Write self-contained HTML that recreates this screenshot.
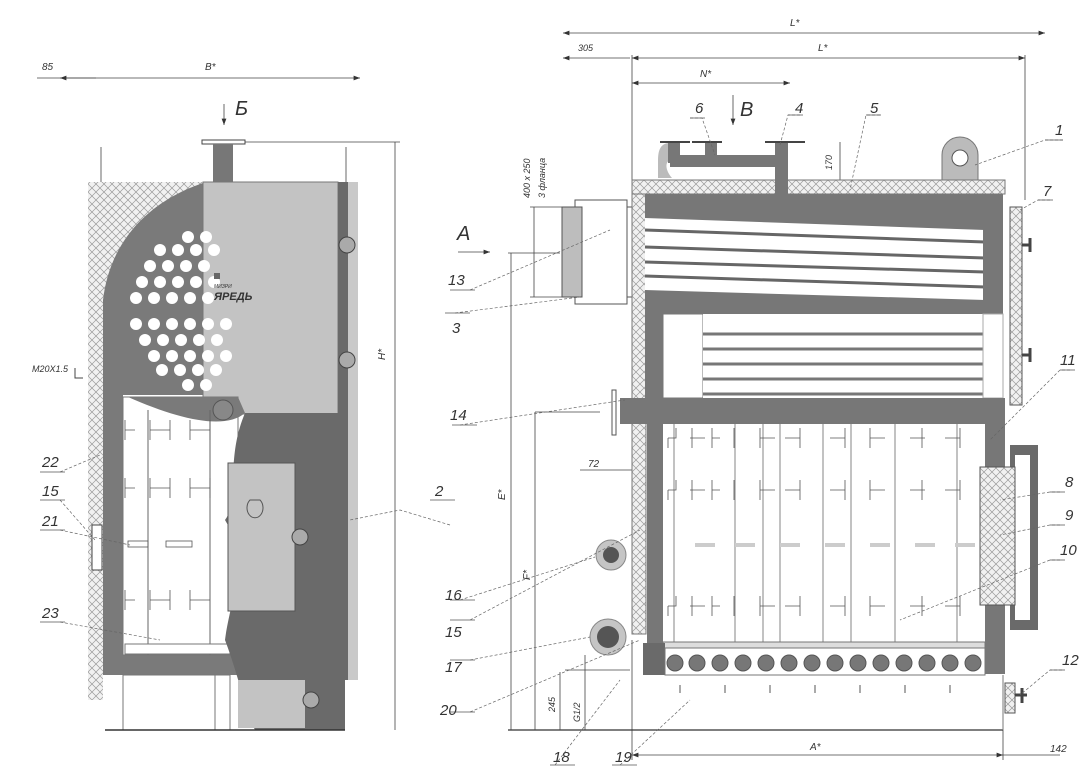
<!DOCTYPE html>
<html><head><meta charset="utf-8"><style>
html,body{margin:0;padding:0;background:#fff;}
svg{display:block;}
text{font-family:"Liberation Sans","DejaVu Sans",sans-serif;font-style:italic;fill:#333;}
</style></head><body>
<svg width="1091" height="780" viewBox="0 0 1091 780" xmlns="http://www.w3.org/2000/svg">
<defs>
<pattern id="h" width="8" height="8" patternUnits="userSpaceOnUse">
<rect width="8" height="8" fill="#f1f1f1"/>
<path d="M0 0L8 8M8 0L0 8" stroke="#9a9a9a" stroke-width="0.7"/>
</pattern>
<marker id="a" markerWidth="8" markerHeight="6" refX="8" refY="3" orient="auto"><path d="M0 0L8 3L0 6Z" fill="#333"/></marker>
<marker id="s" markerWidth="8" markerHeight="6" refX="0" refY="3" orient="auto"><path d="M8 0L0 3L8 6Z" fill="#333"/></marker>
</defs>
<g fill="none" stroke="#444" stroke-width="0.8">
<line x1="37" y1="78" x2="360" y2="78" marker-end="url(#a)"/>
<line x1="96" y1="78" x2="60" y2="78" marker-end="url(#a)"/>
<line x1="101" y1="147" x2="101" y2="182"/><line x1="346" y1="147" x2="346" y2="182"/>
<line x1="245" y1="142" x2="400" y2="142"/>
<line x1="395" y1="142" x2="395" y2="730"/>
<line x1="224" y1="104" x2="224" y2="125" marker-end="url(#a)"/>
</g>
<rect x="202" y="140" width="43" height="4" fill="#fff" stroke="#444"/>
<rect x="213" y="144" width="20" height="38" fill="#777"/>
<path d="M88 182 H206 C160 200 110 240 103 300 V700 H88Z" fill="url(#h)"/>
<path d="M206 182 C150 200 110 240 103 300 V395 H230 V182Z" fill="#7a7a7a"/>
<rect x="203" y="182" width="135" height="232" fill="#c3c3c3" stroke="#777"/>
<rect x="338" y="182" width="10" height="498" fill="#6a6a6a"/>
<rect x="348" y="182" width="10" height="498" fill="#c9c9c9"/>
<g fill="#fff">
<circle cx="188" cy="237" r="6"/><circle cx="206" cy="237" r="6"/>
<circle cx="160" cy="250" r="6"/><circle cx="178" cy="250" r="6"/><circle cx="196" cy="250" r="6"/><circle cx="214" cy="250" r="6"/>
<circle cx="150" cy="266" r="6"/><circle cx="168" cy="266" r="6"/><circle cx="186" cy="266" r="6"/><circle cx="204" cy="266" r="6"/>
<circle cx="142" cy="282" r="6"/><circle cx="160" cy="282" r="6"/><circle cx="178" cy="282" r="6"/><circle cx="196" cy="282" r="6"/><circle cx="214" cy="282" r="6"/>
<circle cx="136" cy="298" r="6"/><circle cx="154" cy="298" r="6"/><circle cx="172" cy="298" r="6"/><circle cx="190" cy="298" r="6"/><circle cx="208" cy="298" r="6"/>
<circle cx="136" cy="324" r="6"/><circle cx="154" cy="324" r="6"/><circle cx="172" cy="324" r="6"/><circle cx="190" cy="324" r="6"/><circle cx="208" cy="324" r="6"/><circle cx="226" cy="324" r="6"/>
<circle cx="145" cy="340" r="6"/><circle cx="163" cy="340" r="6"/><circle cx="181" cy="340" r="6"/><circle cx="199" cy="340" r="6"/><circle cx="217" cy="340" r="6"/>
<circle cx="154" cy="356" r="6"/><circle cx="172" cy="356" r="6"/><circle cx="190" cy="356" r="6"/><circle cx="208" cy="356" r="6"/><circle cx="226" cy="356" r="6"/>
<circle cx="162" cy="370" r="6"/><circle cx="180" cy="370" r="6"/><circle cx="198" cy="370" r="6"/><circle cx="216" cy="370" r="6"/>
<circle cx="188" cy="385" r="6"/><circle cx="206" cy="385" r="6"/>
</g>
<rect x="214" y="273" width="6" height="6" fill="#666"/>
<text x="214" y="288" font-size="5" font-style="normal" fill="#555">МИЗРИ</text>
<text x="214" y="300" font-size="11" font-weight="bold" font-style="normal" fill="#555">ЯРЕДЬ</text>
<rect x="103" y="395" width="20" height="280" fill="#7a7a7a"/>
<rect x="103" y="655" width="140" height="20" fill="#7a7a7a"/>
<rect x="123" y="397" width="115" height="258" fill="#fff" stroke="#777"/>
<path d="M123 397 H238 L245 413 C225 430 180 420 128 397Z" fill="#7a7a7a"/>
<circle cx="223" cy="410" r="10" fill="#888" stroke="#555"/>
<line x1="148" y1="410" x2="148" y2="655" stroke="#666"/>
<line x1="210" y1="410" x2="210" y2="655" stroke="#666"/>
<g stroke="#555" fill="none" stroke-width="0.8">
<path d="M125 430h10M125 420v20M150 430h20M150 420v20M170 420v20M190 430h20M190 420v20M210 420v20"/>
<path d="M125 488h10M125 478v20M150 488h20M150 478v20M170 478v20M190 488h20M190 478v20M210 478v20"/>
<path d="M125 600h10M125 590v20M150 600h20M150 590v20M170 590v20M190 600h20M190 590v20"/>
<rect x="166" y="541" width="26" height="6"/><rect x="128" y="541" width="20" height="6"/>
</g>
<rect x="125" y="644" width="105" height="10" fill="#fff" stroke="#777"/>
<path d="M340 413 H245 C225 460 240 500 225 520 C250 560 230 600 225 640 C240 680 245 710 255 730 H345 V680 H340Z" fill="#6a6a6a"/>
<rect x="228" y="463" width="67" height="148" fill="#c3c3c3" stroke="#555"/>
<path d="M250 500 a8 10 0 1 0 10 0Z" fill="none" stroke="#555"/>
<rect x="238" y="680" width="67" height="48" fill="#c3c3c3"/>
<rect x="305" y="680" width="20" height="50" fill="#6a6a6a"/>
<circle cx="311" cy="700" r="8" fill="#aaa" stroke="#444"/>
<circle cx="347" cy="245" r="8" fill="#aaa" stroke="#444"/>
<circle cx="347" cy="360" r="8" fill="#aaa" stroke="#444"/>
<circle cx="300" cy="537" r="8" fill="#aaa" stroke="#444"/>
<rect x="123" y="675" width="107" height="55" fill="#fff" stroke="#777"/>
<line x1="215" y1="675" x2="215" y2="730" stroke="#777"/>
<line x1="105" y1="730" x2="345" y2="730" stroke="#333" stroke-width="1.5"/>
<rect x="92" y="525" width="10" height="45" fill="#fff" stroke="#444"/>
<path d="M75 368 v10 h8" fill="none" stroke="#444"/>
<g fill="none" stroke="#444" stroke-width="0.8">
<line x1="563" y1="33" x2="1045" y2="33" marker-end="url(#a)" marker-start="url(#s)"/>
<line x1="563" y1="58" x2="630" y2="58" marker-start="url(#s)"/>
<line x1="632" y1="58" x2="1025" y2="58" marker-end="url(#a)" marker-start="url(#s)"/>
<line x1="632" y1="83" x2="790" y2="83" marker-end="url(#a)" marker-start="url(#s)"/>
<line x1="632" y1="55" x2="632" y2="180"/><line x1="1025" y1="55" x2="1025" y2="200"/>
<line x1="632" y1="640" x2="632" y2="760"/>
<line x1="1003" y1="730" x2="1003" y2="760"/>
<line x1="632" y1="755" x2="1003" y2="755" marker-end="url(#a)" marker-start="url(#s)"/>
<line x1="1003" y1="755" x2="1060" y2="755"/>
<line x1="508" y1="730" x2="1003" y2="730" stroke="#333" stroke-width="1.3"/>
<line x1="511" y1="253" x2="511" y2="730"/>
<line x1="535" y1="412" x2="535" y2="730"/>
<line x1="535" y1="412" x2="600" y2="412"/>
<line x1="534" y1="207" x2="534" y2="297"/>
<line x1="530" y1="207" x2="562" y2="207"/><line x1="530" y1="297" x2="562" y2="297"/>
<line x1="508" y1="253" x2="560" y2="253"/>
<line x1="458" y1="252" x2="490" y2="252" marker-end="url(#a)"/>
<line x1="733" y1="95" x2="733" y2="125" marker-end="url(#a)"/>
<line x1="840" y1="142" x2="840" y2="180"/>
<line x1="580" y1="470" x2="645" y2="470" marker-end="url(#a)"/>
<line x1="565" y1="670" x2="630" y2="670"/>
<line x1="585" y1="655" x2="585" y2="730"/>
<line x1="560" y1="672" x2="560" y2="730"/>
</g>
<rect x="575" y="200" width="52" height="104" fill="#fff" stroke="#555"/>
<rect x="562" y="207" width="20" height="90" fill="#bdbdbd" stroke="#555"/>
<rect x="627" y="207" width="5" height="90" fill="#fff" stroke="#555"/>
<rect x="632" y="180" width="373" height="14" fill="url(#h)" stroke="#777"/>
<rect x="632" y="194" width="14" height="440" fill="url(#h)" stroke="#777"/>
<path d="M658 178 V160 C658 148 662 143 670 143 V160 C665 162 665 170 672 178Z" fill="#bbb"/>
<rect x="668" y="143" width="12" height="20" fill="#777"/>
<rect x="705" y="143" width="12" height="20" fill="#777"/>
<rect x="670" y="155" width="110" height="12" fill="#777"/>
<rect x="775" y="143" width="13" height="52" fill="#777"/>
<path d="M660 142h30M692 142h30M765 142h40" stroke="#444" stroke-width="2"/>
<path d="M942 180 V155 a18 18 0 0 1 36 0 V180Z" fill="#bbb" stroke="#777"/>
<circle cx="960" cy="158" r="8" fill="#fff" stroke="#555"/>
<rect x="645" y="194" width="358" height="120" fill="#777"/>
<path d="M645 218 L985 230 L985 300 L645 290Z" fill="#fff"/>
<g stroke="#666" stroke-width="3">
<line x1="645" y1="230" x2="985" y2="242"/>
<line x1="645" y1="247" x2="985" y2="258"/>
<line x1="645" y1="262" x2="985" y2="272"/>
<line x1="645" y1="276" x2="985" y2="287"/>
</g>
<rect x="645" y="314" width="18" height="90" fill="#777"/>
<rect x="663" y="314" width="40" height="84" fill="#fff" stroke="#777"/>
<rect x="703" y="314" width="280" height="84" fill="#fff"/>
<g stroke="#777" stroke-width="3"><line x1="703" y1="334" x2="983" y2="334"/><line x1="703" y1="349" x2="983" y2="349"/><line x1="703" y1="364" x2="983" y2="364"/><line x1="703" y1="379" x2="983" y2="379"/><line x1="703" y1="394" x2="983" y2="394"/></g>
<rect x="983" y="194" width="20" height="120" fill="#777"/>
<rect x="983" y="314" width="20" height="84" fill="#fff" stroke="#aaa"/>
<rect x="1010" y="207" width="12" height="198" fill="url(#h)" stroke="#555"/>
<path d="M1022 245h8M1030 238v14M1022 355h8M1030 348v14" stroke="#444" stroke-width="3"/>
<rect x="620" y="398" width="385" height="26" fill="#777"/>
<rect x="612" y="390" width="4" height="45" fill="#fff" stroke="#555"/>
<rect x="647" y="424" width="16" height="220" fill="#777"/>
<rect x="985" y="424" width="20" height="250" fill="#777"/>
<rect x="663" y="424" width="322" height="218" fill="#fff"/>
<g stroke="#666" stroke-width="0.8">
<line x1="735" y1="424" x2="735" y2="642"/><line x1="763" y1="424" x2="763" y2="642"/>
<line x1="780" y1="424" x2="780" y2="642"/><line x1="823" y1="424" x2="823" y2="642"/>
<line x1="851" y1="424" x2="851" y2="642"/><line x1="895" y1="424" x2="895" y2="642"/>
<line x1="957" y1="424" x2="957" y2="642"/><line x1="674" y1="424" x2="674" y2="642"/>
</g>
<g stroke="#555" fill="none" stroke-width="0.8">
<path id="hr" d="M668 438h8v-10M668 438v10M690 438h15M692 428v20 M712 438h8M712 428v20M734 428v20 M760 438h15M760 428v20 M785 438h15M800 428v20 M830 438h15M845 428v20 M870 438h15M870 428v20 M910 438h15M922 428v20 M945 438h15M960 428v20"/>
<use href="#hr" y="52"/><use href="#hr" y="168"/>
<path d="M695 545h20M735 545h20M780 545h20M825 545h20M870 545h20M915 545h20M955 545h20" stroke-width="4" stroke="#ccc"/>
</g>
<rect x="663" y="642" width="322" height="6" fill="#ddd" stroke="#777"/>
<rect x="643" y="643" width="22" height="32" fill="#6a6a6a"/>
<rect x="665" y="648" width="320" height="27" fill="#fff" stroke="#777"/>
<g fill="#777" stroke="#555">
<circle cx="675" cy="663" r="8"/><circle cx="697" cy="663" r="8"/><circle cx="720" cy="663" r="8"/><circle cx="743" cy="663" r="8"/><circle cx="766" cy="663" r="8"/><circle cx="789" cy="663" r="8"/><circle cx="812" cy="663" r="8"/><circle cx="835" cy="663" r="8"/><circle cx="858" cy="663" r="8"/><circle cx="881" cy="663" r="8"/><circle cx="904" cy="663" r="8"/><circle cx="927" cy="663" r="8"/><circle cx="950" cy="663" r="8"/><circle cx="973" cy="663" r="8"/>
</g>
<g stroke="#555" fill="none"><path d="M680 685v8M725 685v8M770 685v8M815 685v8M860 685v8M905 685v8M950 685v8"/></g>
<line x1="1003" y1="675" x2="1003" y2="730" stroke="#777"/>
<rect x="1010" y="445" width="28" height="185" fill="#6a6a6a"/>
<rect x="1015" y="455" width="15" height="165" fill="#fff"/>
<rect x="980" y="467" width="35" height="138" fill="url(#h)" stroke="#555"/>
<rect x="1005" y="683" width="10" height="30" fill="url(#h)" stroke="#555"/>
<path d="M1015 695h12M1022 688v15" stroke="#444" stroke-width="3"/>
<circle cx="611" cy="555" r="15" fill="#c5c5c5" stroke="#888"/><circle cx="611" cy="555" r="8" fill="#555"/>
<circle cx="608" cy="637" r="18" fill="#c5c5c5" stroke="#888"/><circle cx="608" cy="637" r="11" fill="#555"/>
<g stroke="#666" stroke-width="0.7" stroke-dasharray="3 2" fill="none">
<path d="M1063 140 L1045 140 L975 165"/>
<path d="M1050 200 L1038 200 L1020 210"/>
<path d="M800 115 L788 115 L780 145"/>
<path d="M880 115 L866 115 L850 190"/>
<path d="M690 118 L702 118 L715 155"/>
<path d="M470 290 L610 230"/>
<path d="M455 313 L580 297"/>
<path d="M460 425 L625 400"/>
<path d="M460 600 L595 557"/>
<path d="M470 620 L640 530"/>
<path d="M470 660 L590 637"/>
<path d="M470 712 L640 640"/>
<path d="M555 765 L620 680"/>
<path d="M620 765 L690 700"/>
<path d="M1070 370 L1060 370 L990 440"/>
<path d="M1060 492 L1050 492 L1000 500"/>
<path d="M1060 525 L1050 525 L1000 535"/>
<path d="M1060 560 L1050 560 L900 620"/>
<path d="M1062 670 L1050 670 L1020 695"/>
<path d="M450 525 L400 510 L350 520"/>
<path d="M60 472 L100 455"/>
<path d="M60 500 L95 540"/>
<path d="M60 530 L130 545"/>
<path d="M60 622 L160 640"/>
</g>
<g stroke="#555" stroke-width="0.7">
<path d="M1045 140h18M1038 200h15M788 115h15M866 115h15M690 118h15M450 290h25M445 313h25M452 425h25M450 600h25M450 620h25M450 660h25M450 712h25M550 765h25M612 765h25M1060 370h15M1050 492h15M1050 525h15M1050 560h15M1050 670h15M430 500h25M40 472h25M40 500h25M40 530h25M40 622h25"/>
</g>
<g font-size="15">
<text x="42" y="70" font-size="10">85</text>
<text x="205" y="70" font-size="10">B*</text>
<text x="235" y="115" font-size="20" font-style="normal">Б</text>
<text x="32" y="372" font-size="9">M20X1.5</text>
<text x="385" y="360" font-size="10" transform="rotate(-90 385 360)">H*</text>
<text x="42" y="467">22</text><text x="42" y="496">15</text><text x="42" y="526">21</text><text x="42" y="618">23</text>
<text x="435" y="496">2</text>
<text x="790" y="26" font-size="10">L*</text>
<text x="578" y="51" font-size="9">305</text>
<text x="818" y="51" font-size="10">L*</text>
<text x="700" y="77" font-size="10">N*</text>
<text x="740" y="116" font-size="20" font-style="normal">В</text>
<text x="695" y="113">6</text><text x="795" y="113">4</text><text x="870" y="113">5</text><text x="1055" y="135">1</text><text x="1043" y="196">7</text>
<text x="457" y="240" font-size="20" font-style="normal">А</text>
<text x="530" y="198" font-size="9" transform="rotate(-90 530 198)">400 x 250</text>
<text x="545" y="198" font-size="9" transform="rotate(-90 545 198)">3 фланца</text>
<text x="832" y="170" font-size="9" transform="rotate(-90 832 170)">170</text>
<text x="448" y="285">13</text><text x="452" y="333">3</text><text x="450" y="420">14</text>
<text x="588" y="467" font-size="10">72</text>
<text x="505" y="500" font-size="10" transform="rotate(-90 505 500)">E*</text>
<text x="530" y="580" font-size="10" transform="rotate(-90 530 580)">F*</text>
<text x="1060" y="365">11</text><text x="1065" y="487">8</text><text x="1065" y="520">9</text><text x="1060" y="555">10</text><text x="1062" y="665">12</text>
<text x="445" y="600">16</text><text x="445" y="637">15</text><text x="445" y="672">17</text><text x="440" y="715">20</text>
<text x="553" y="762">18</text><text x="615" y="762">19</text>
<text x="555" y="712" font-size="9" transform="rotate(-90 555 712)">245</text>
<text x="580" y="722" font-size="9" transform="rotate(-90 580 722)">G1/2</text>
<text x="810" y="750" font-size="10">A*</text>
<text x="1050" y="752" font-size="10">142</text>
</g>
</svg>
</body></html>
